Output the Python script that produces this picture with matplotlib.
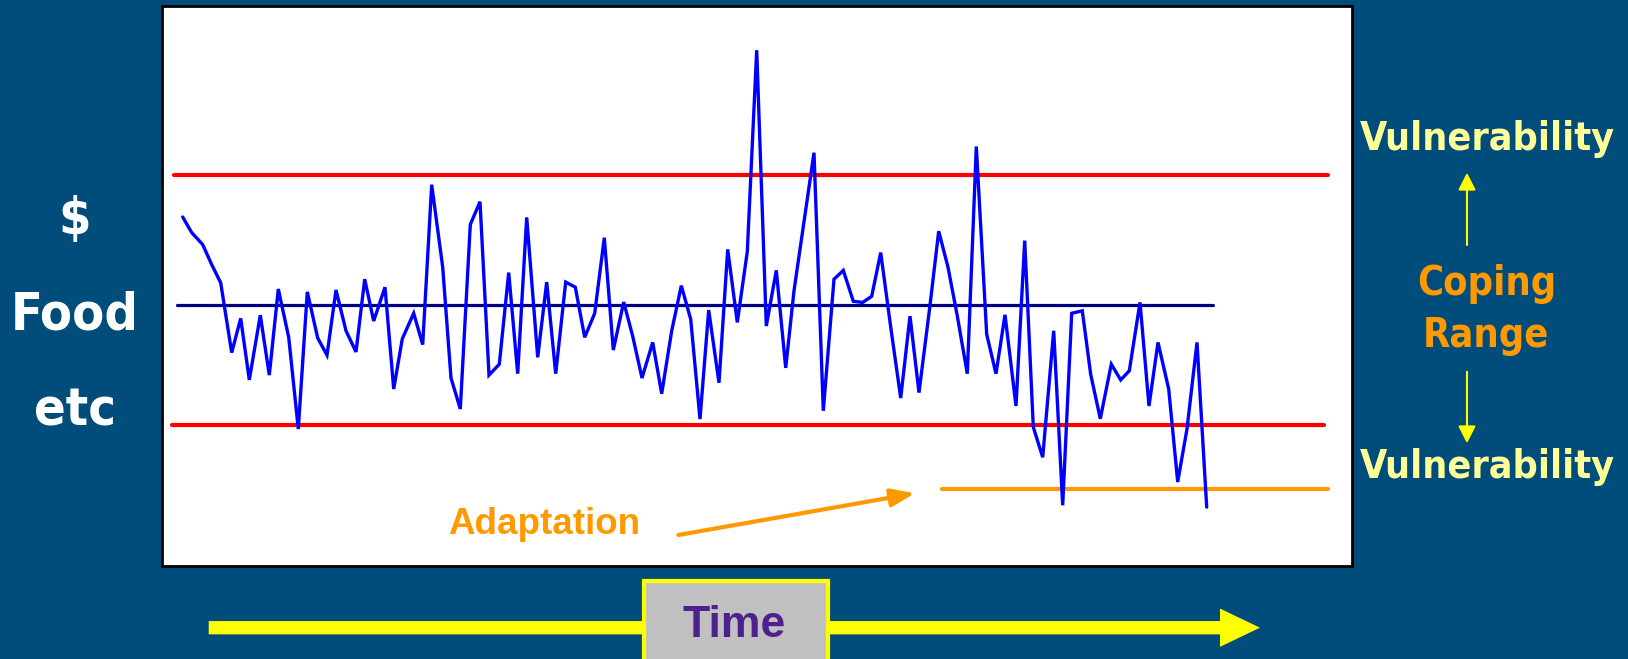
import matplotlib
matplotlib.use("Agg")
import matplotlib.pyplot as plt
from matplotlib.patches import FancyArrow, Rectangle

# serie: tempo x nivel ($ / food / etc), unidades arbitrarias
time = [20.7, 29.7, 40.7, 49.7, 58.7, 69.7, 78.7, 87.3, 98.3, 107.3,
        116.3, 126.7, 136.3, 145.3, 155.7, 165, 174, 184, 194, 202.7,
        211.7, 223, 231.7, 240.3, 251.7, 260.7, 269.7, 280.7, 289, 298.3,
        308.3, 318, 327, 337.3, 346.7, 355.7, 364.7, 375.7, 384.7, 393.7,
        403.7, 413.3, 422.7, 432.7, 442.3, 451.3, 461.7, 470.7, 480, 490.7,
        499.7, 509.7, 519.3, 528.7, 538, 546.7, 557, 565.7, 575.3, 585.3,
        594.7, 604.3, 614.3, 623.7, 632, 642, 652, 661.3, 672, 681.3,
        691.3, 700.7, 709.7, 718.7, 728.7, 738.7, 748, 757, 768, 776.7,
        786, 795.3, 805.3, 814.3, 824.7, 834, 843, 854, 862.7, 871.3,
        880.7, 891.7, 900.7, 909.7, 920.3, 928.7, 938.3, 949.3, 958.7, 967.3,
        978, 987, 996, 1006.7, 1015.7, 1025, 1035, 1044.7]
level = [349, 333.4, 321.4, 301.4, 283.2, 213.4, 247.6, 186.1, 250.8, 190.9,
         277, 228.7, 137, 274.1, 228, 210.9, 276, 235.2, 214.1, 286.8,
         245, 278.8, 177, 227.2, 252.7, 221.4, 381.3, 298.8, 188, 157,
         341.4, 364.3, 190.9, 201.8, 293.4, 192.3, 348.6, 208.7, 283.9, 192.3,
         283.9, 278.8, 228.7, 252.7, 328.3, 216, 263.9, 229.8, 188, 223.6,
         172.3, 235.2, 280.3, 246.8, 146.9, 255.9, 183.2, 316.6, 243.6, 314.5,
         515.8, 240, 295.6, 198.1, 275.2, 344.3, 413.3, 155.2, 286.8, 295.6,
         264.7, 263.6, 269.7, 313.4, 239, 168, 249.8, 173.4, 260.7, 334.8,
         298.8, 250, 192.3, 419.5, 231.6, 192.3, 251.2, 160, 325.4, 138.9,
         108.7, 235.2, 60.7, 252.7, 255.2, 191.6, 147.2, 201.8, 186.1, 195.2,
         263.6, 160, 223.6, 177, 84, 137.1, 223.6, 58.9]

# limites da faixa de enfrentamento
upper_limit = 391.5
lower_limit = 141.4
mean_level = 261.4
adapted_limit = 76.7
upper_span = [12, 1166]
lower_span = [10, 1162]
mean_span = [15, 1051]
adapted_span = [780, 1166]

bg = "#004c7b"
orange = "#ff9900"
pale = "#ffff99"
W, H = 1628, 659

fig = plt.figure(figsize=(W / 100, H / 100), dpi=100, facecolor=bg)

# camada em pixels para textos e setas fora do grafico
over = fig.add_axes([0, 0, 1, 1])
over.set_xlim(0, W)
over.set_ylim(H, 0)
over.axis("off")

ax = fig.add_axes([162 / W, (H - 566) / H, 1190 / W, 560 / H])
ax.set_xlim(0, 1190)
ax.set_ylim(0, 560)
ax.set_facecolor("white")
ax.set_xticks([])
ax.set_yticks([])
for s in ax.spines.values():
    s.set_linewidth(2)
    s.set_color("black")

ax.plot(upper_span, [upper_limit] * 2, color="#ff0000", lw=3, solid_capstyle="round")
ax.plot(lower_span, [lower_limit] * 2, color="#ff0000", lw=3, solid_capstyle="round")
ax.plot(mean_span, [mean_level] * 2, color="#000080", lw=2.3, solid_capstyle="round")
ax.plot(adapted_span, [adapted_limit] * 2, color=orange, lw=3, solid_capstyle="round")
ax.plot(time, level, color="#0000ff", lw=2.4, solid_joinstyle="miter",
        solid_capstyle="round")

ax.text(382, 32, "Adaptation", color=orange, fontsize=26.5, fontweight="bold",
        family="Liberation Sans", ha="center", va="baseline")
ax.annotate("", xy=(753, 72.7), xytext=(516.3, 31), annotation_clip=False,
            arrowprops=dict(arrowstyle="-|>,head_length=0.8,head_width=0.3",
                            color=orange, lw=3, shrinkA=0, shrinkB=0,
                            mutation_scale=18))

lbl = dict(family="DejaVu Sans", fontweight="bold", fontstretch="condensed")

# eixo vertical: $ / Food / etc
over.text(75, 220, "$", color="white", fontsize=37.5, ha="center", va="center", **lbl)
over.text(75, 330, "Food", color="white", fontsize=37.5, ha="center", va="baseline", **lbl)
over.text(75, 425, "etc", color="white", fontsize=37.5, ha="center", va="baseline", **lbl)

# lado direito
over.text(1487, 150, "Vulnerability", color=pale, fontsize=28.3, ha="center", va="baseline", **lbl)
over.text(1487, 478, "Vulnerability", color=pale, fontsize=28.3, ha="center", va="baseline", **lbl)
over.text(1487, 295, "Coping", color=orange, fontsize=28.5, ha="center", va="baseline", **lbl)
over.text(1486, 347, "Range", color=orange, fontsize=28.5, ha="center", va="baseline", **lbl)
arr = dict(arrowstyle="-|>,head_length=0.75,head_width=0.38", color="#ffff00",
           lw=1.5, shrinkA=0, shrinkB=0, mutation_scale=14)
over.annotate("", xy=(1467, 172.7), xytext=(1467, 245), arrowprops=arr)
over.annotate("", xy=(1467, 443.3), xytext=(1467, 371.7), arrowprops=arr)

# seta do tempo
over.add_patch(FancyArrow(208.7, 627.7, 1051.3, 0, width=13.3, head_width=38.3,
                          head_length=40, length_includes_head=True,
                          fc="#ffff00", ec="none"))
over.add_patch(Rectangle((643.7, 581), 183.8, 85, fc="#c0c0c0", ec="#ffff00", lw=3))
over.text(734, 636.7, "Time", color="#4e1f8f", fontsize=32, fontweight="bold",
          family="Liberation Sans", ha="center", va="baseline")

fig.savefig("out.png", dpi=100, facecolor=bg)
